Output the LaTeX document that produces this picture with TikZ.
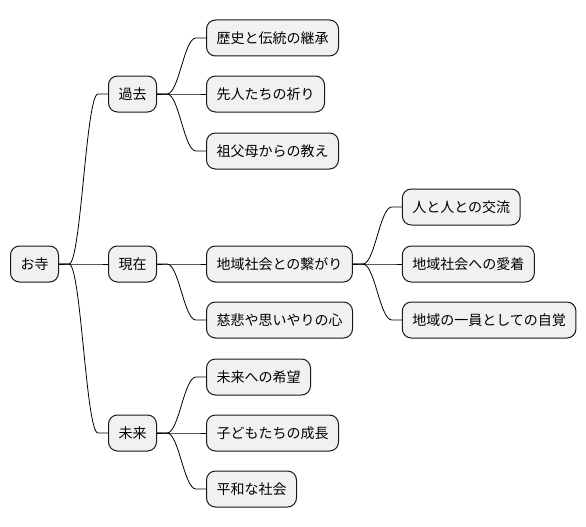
\documentclass[tikz,border=0pt]{standalone}
\usepackage{fontspec}
\setmainfont{Noto Sans CJK JP}
\usetikzlibrary{positioning,calc}
\definecolor{boxfill}{HTML}{F1F1F1}
\definecolor{boxline}{HTML}{181818}

\begin{document}
\begin{tikzpicture}[x=1pt,y=1pt,node distance=49pt,
  box/.style={draw=boxline,line width=1pt,fill=boxfill,rounded corners=9pt,
    minimum height=36pt,inner xsep=10pt,inner ysep=0pt,
    font=\fontsize{14pt}{16pt}\selectfont},
  branch/.style={line width=0.8pt,to path={(\tikztostart.east) -- ++(10pt,0)
    .. controls +(12pt,0) and ($(\tikztotarget.west)+(-22pt,0)$)
    .. ($(\tikztotarget.west)+(-10pt,0)$) -- (\tikztotarget.west)}}]
   \useasboundingbox (0,0) rectangle (586,-527);
   \node[box,anchor=west] (otera) at (10,-264) {お寺};
   \node[box] (kako)   [right=of otera,yshift=170pt] {過去};
   \node[box] (genzai) [right=of otera] {現在};
   \node[box] (mirai)  [right=of otera,yshift=-169pt] {未来};
   % kako
   \node[box] (rekishi) [right=of kako,yshift=56pt] {歴史と伝統の継承};
   \node[box] (senjin)  [right=of kako] {先人たちの祈り};
   \node[box] (sofubo)  [right=of kako,yshift=-57pt] {祖父母からの教え};
   % genzai
   \node[box] (chiiki) [right=of genzai] {地域社会との繋がり};
   \node[box] (jihi)   [right=of genzai,yshift=-56pt] {慈悲や思いやりの心};
   \node[box] (kouryuu) [right=of chiiki,yshift=57pt] {人と人との交流};
   \node[box] (aichaku) [right=of chiiki] {地域社会への愛着};
   \node[box] (jikaku)  [right=of chiiki,yshift=-56pt] {地域の一員としての自覚};
   % mirai
   \node[box] (kibou)   [right=of mirai,yshift=56pt] {未来への希望};
   \node[box] (seichou) [right=of mirai] {子どもたちの成長};
   \node[box] (heiwa)   [right=of mirai,yshift=-56pt] {平和な社会};
    \draw
      (otera) edge[branch] (kako)
              edge[branch] (genzai)
              edge[branch] (mirai)
      (kako) edge[branch] (rekishi)
             edge[branch] (senjin)
             edge[branch] (sofubo)
      (genzai) edge[branch] (chiiki)
               edge[branch] (jihi)
      (chiiki) edge[branch] (kouryuu)
               edge[branch] (aichaku)
               edge[branch] (jikaku)
      (mirai) edge[branch] (kibou)
              edge[branch] (seichou)
              edge[branch] (heiwa)
      ;
\end{tikzpicture}
\end{document}
